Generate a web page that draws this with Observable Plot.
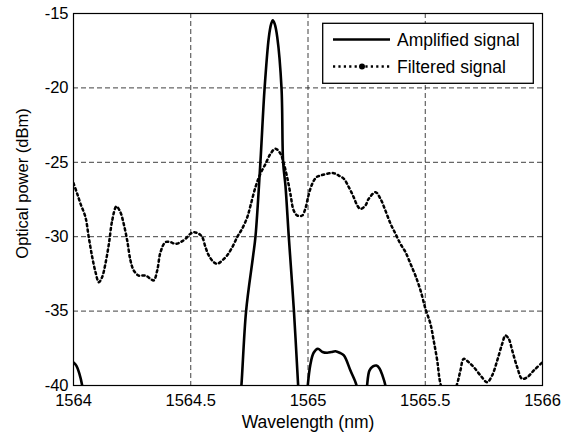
<!DOCTYPE html>
<html>
<head>
<meta charset="utf-8">
<script src="https://cdn.jsdelivr.net/npm/d3@7"></script>
<script src="https://cdn.jsdelivr.net/npm/@observablehq/plot@0.6"></script>
<style>
  html, body { margin: 0; padding: 0; background: #fff; }
  #chart { width: 567px; height: 436px; position: relative; }
</style>
</head>
<body>
<div id="chart"></div>
<script>
// ---- data ----
const xTicks = [1564, 1564.5, 1565, 1565.5, 1566];
const yTicks = [-40, -35, -30, -25, -20, -15];
const seriesNames = ["Amplified signal", "Filtered signal"];

// Amplified signal (solid), several lobes; segment id separates them
const ampWl = [
  1564.000, 1564.012, 1564.025, 1564.037, 1564.045,
  1564.710, 1564.716, 1564.736, 1564.765, 1564.776, 1564.797, 1564.815, 1564.833, 1564.843, 1564.850, 1564.858, 1564.869, 1564.887, 1564.894, 1564.904, 1564.918, 1564.940, 1564.958, 1564.962,
  1564.995, 1564.999, 1565.010, 1565.024, 1565.042, 1565.062, 1565.082, 1565.100, 1565.117, 1565.135, 1565.153, 1565.181, 1565.207, 1565.212,
  1565.248, 1565.252, 1565.262, 1565.277, 1565.292, 1565.305, 1565.318, 1565.330, 1565.334
];
const ampPw = [
  -38.45, -38.66, -39.2, -40, -41,
  -41, -40, -35, -31.4, -30, -25, -20, -16.6, -15.7, -15.45, -15.7, -16.6, -20, -25, -26.6, -30, -35, -40, -41,
  -41, -40, -38.6, -37.8, -37.53, -37.75, -37.8, -37.75, -37.7, -37.8, -37.98, -39, -40, -41,
  -41, -40, -39.0, -38.72, -38.66, -38.85, -39.35, -40, -41
];
const ampSeg = [
  0, 0, 0, 0, 0,
  1, 1, 1, 1, 1, 1, 1, 1, 1, 1, 1, 1, 1, 1, 1, 1, 1, 1, 1,
  2, 2, 2, 2, 2, 2, 2, 2, 2, 2, 2, 2, 2, 2,
  3, 3, 3, 3, 3, 3, 3, 3, 3
];

// Filtered signal (dotted)
const filWl = [
  1564.000, 1564.016, 1564.030, 1564.051, 1564.065, 1564.080, 1564.094, 1564.108, 1564.122, 1564.136,
  1564.151, 1564.165, 1564.183, 1564.200, 1564.214, 1564.229, 1564.243, 1564.257, 1564.278, 1564.307,
  1564.328, 1564.342, 1564.357, 1564.371, 1564.392, 1564.414, 1564.435, 1564.456, 1564.478, 1564.499,
  1564.513, 1564.534, 1564.549, 1564.563, 1564.577, 1564.598, 1564.613, 1564.634, 1564.655, 1564.677,
  1564.698, 1564.719, 1564.741, 1564.755, 1564.776, 1564.797, 1564.819, 1564.840, 1564.861, 1564.883,
  1564.897, 1564.911, 1564.925, 1564.939, 1564.955, 1564.975, 1564.989, 1565.002, 1565.018, 1565.036,
  1565.053, 1565.082, 1565.110, 1565.131, 1565.153, 1565.174, 1565.195, 1565.210, 1565.224, 1565.245,
  1565.259, 1565.288, 1565.309, 1565.330, 1565.352, 1565.373, 1565.394, 1565.416, 1565.437, 1565.458,
  1565.480, 1565.501, 1565.522, 1565.536, 1565.551, 1565.565, 1565.600, 1565.636, 1565.650, 1565.664,
  1565.685, 1565.707, 1565.736, 1565.764, 1565.785, 1565.807, 1565.828, 1565.842, 1565.856, 1565.871,
  1565.892, 1565.913, 1565.935, 1565.963, 1566.000
];
const filPw = [
  -26.40, -27.12, -27.79, -28.69, -30.03, -31.38, -32.39, -33.06, -32.72, -31.82,
  -30.48, -28.91, -27.97, -28.35, -29.13, -30.26, -31.60, -32.27, -32.61, -32.61,
  -32.83, -32.94, -32.27, -31.04, -30.37, -30.37, -30.48, -30.37, -30.14, -29.80,
  -29.70, -29.80, -30.03, -30.71, -31.26, -31.71, -31.82, -31.60, -31.26, -30.71,
  -30.03, -29.47, -28.69, -27.90, -26.67, -25.77, -25.10, -24.43, -24.09, -24.43,
  -25.10, -26.00, -27.12, -28.24, -28.58, -28.58, -28.10, -27.23, -26.45, -26.00,
  -25.89, -25.77, -25.73, -25.89, -26.11, -26.67, -27.35, -27.90, -28.13, -27.90,
  -27.45, -27.01, -27.45, -28.24, -29.13, -29.80, -30.48, -31.04, -31.82, -32.61,
  -33.62, -34.85, -35.85, -36.98, -38.32, -39.89, -41.50, -39.89, -38.99, -38.21,
  -38.43, -38.77, -39.33, -39.78, -39.33, -38.32, -37.20, -36.64, -36.86, -37.65,
  -38.77, -39.55, -39.44, -38.99, -38.43
];

const amp = ampWl.map((w, i) => ({wl: w, p: ampPw[i], seg: ampSeg[i]}));
const fil = filWl.map((w, i) => ({wl: w, p: filPw[i]}));

const font = "'Liberation Sans', Arial, Helvetica, sans-serif";
const fmt = d => String(d);
const dots = "2.2,3.2";

const chart = Plot.plot({
  width: 567,
  height: 436,
  marginLeft: 73,
  marginRight: 25,
  marginTop: 13,
  marginBottom: 51,
  style: {fontFamily: font, fontSize: "16.5px", color: "#000", background: "#fff"},
  x: {domain: [1564, 1566]},
  y: {domain: [-40, -15]},
  marks: [
    Plot.gridX(xTicks, {stroke: "#000", strokeOpacity: 0.75, strokeDasharray: "5,3", strokeWidth: 1}),
    Plot.gridY(yTicks, {stroke: "#000", strokeOpacity: 0.75, strokeDasharray: "5,3", strokeWidth: 1}),
    Plot.axisX(xTicks, {tickSize: 0, tickPadding: 9, tickFormat: fmt, label: null, fontSize: 16.5}),
    Plot.axisY(yTicks, {tickSize: 0, tickPadding: 5, tickFormat: fmt, label: null, fontSize: 16.5}),
    Plot.line(fil, {x: "wl", y: "p", stroke: "#000", strokeWidth: 2.5, strokeDasharray: dots, curve: "catmull-rom", clip: true}),
    Plot.line(amp, {x: "wl", y: "p", z: "seg", stroke: "#000", strokeWidth: 2.6, curve: "catmull-rom", clip: true}),
    Plot.frame({stroke: "#000", strokeWidth: 1.2}),
    Plot.text(["Wavelength (nm)"], {frameAnchor: "bottom", dy: 42, fontSize: 17.5, textAnchor: "middle"}),
    Plot.text(["Optical power (dBm)"], {frameAnchor: "left", dx: -50.5, dy: -16, rotate: -90, fontSize: 16.5, textAnchor: "middle"})
  ]
});

document.getElementById("chart").appendChild(chart);

// ---- legend (inside plot, top right) ----
const svg = d3.select(chart);
const lg = svg.append("g").attr("font-family", font).attr("font-size", 17.5).attr("text-anchor", "start");
lg.append("rect").attr("x", 322.7).attr("y", 23.3).attr("width", 210.6).attr("height", 60)
  .attr("fill", "#fff").attr("stroke", "#000").attr("stroke-width", 1.3);
const rows = [{y: 39.5, dash: null}, {y: 66.5, dash: dots}];
rows.forEach((r, i) => {
  const ln = lg.append("line").attr("x1", 333).attr("x2", 390).attr("y1", r.y).attr("y2", r.y)
    .attr("stroke", "#000").attr("stroke-width", i === 0 ? 2.6 : 2.5);
  if (r.dash) ln.attr("stroke-dasharray", r.dash);
  if (i === 1) lg.append("circle").attr("cx", 362).attr("cy", r.y).attr("r", 3).attr("fill", "#000");
  lg.append("text").attr("x", 397).attr("y", r.y).attr("dy", "0.35em").attr("fill", "#000")
    .attr("text-anchor", "start").text(seriesNames[i]);
});
</script>
</body>
</html>
